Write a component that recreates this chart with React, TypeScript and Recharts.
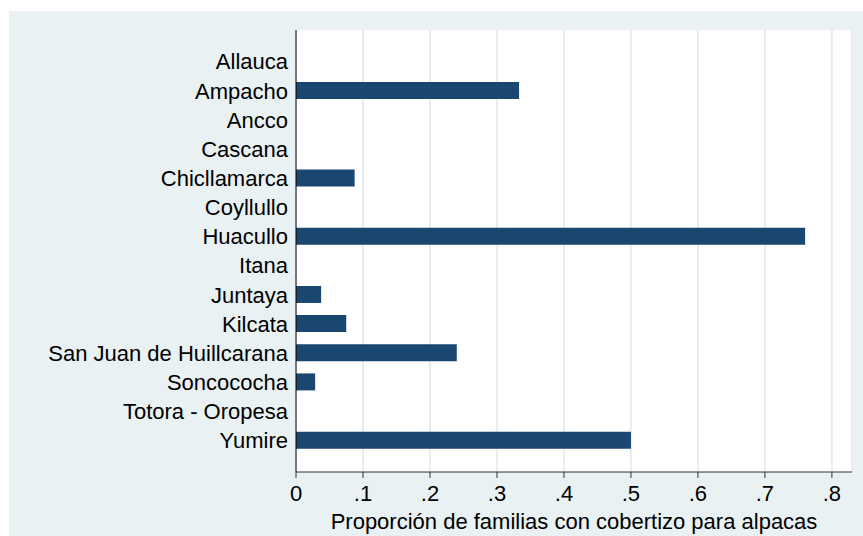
import React from "react";
import { BarChart, Bar, XAxis, YAxis, CartesianGrid } from "recharts";

const communities = [
  "Allauca",
  "Ampacho",
  "Ancco",
  "Cascana",
  "Chicllamarca",
  "Coyllullo",
  "Huacullo",
  "Itana",
  "Juntaya",
  "Kilcata",
  "San Juan de Huillcarana",
  "Soncococha",
  "Totora - Oropesa",
  "Yumire",
];

const shedShare = [0, 0.333, 0, 0, 0.0875, 0, 0.76, 0, 0.0375, 0.075, 0.24, 0.0286, 0, 0.5];

const xTicks = [0, 0.1, 0.2, 0.3, 0.4, 0.5, 0.6, 0.7, 0.8];

const data = communities.map((name, i) => ({ name, value: shedShare[i] }));

const FONT = "'Liberation Sans', Arial, sans-serif";
const BG = "#e9f1f3";
const BAR = "#1a476f";
const TXT = "#000";

const fmtTick = (v: number) => (v === 0 ? "0" : "." + Math.round(v * 10));

export default function App() {
  return (
    <div
      style={{
        position: "absolute",
        left: 0,
        top: 0,
        width: 863,
        height: 536,
        background: "#fff",
        fontFamily: FONT,
      }}
    >
      <div style={{ position: "absolute", left: 9, top: 11, width: 854, height: 525, background: BG }}>
        <BarChart
          width={854}
          height={525}
          data={data}
          layout="vertical"
          barCategoryGap="20%"
          margin={{ top: 19, right: 11, bottom: 0, left: 0 }}
        >
          <CartesianGrid horizontal={false} stroke="#e6eef1" strokeWidth={2} fill="#ffffff" />
          <XAxis
            type="number"
            domain={[0, 0.83]}
            ticks={xTicks}
            tickFormatter={fmtTick}
            height={64}
            tickSize={6}
            tickMargin={7}
            stroke="#333"
            tick={{ fill: TXT, fontSize: 22, fontFamily: FONT }}
            label={{
              value: "Proporción de familias con cobertizo para alpacas",
              position: "insideBottom",
              offset: 7,
              fill: TXT,
              fontSize: 22,
              fontFamily: FONT,
            }}
          />
          <YAxis
            type="category"
            dataKey="name"
            width={287}
            tickLine={false}
            tickSize={0}
            tickMargin={8}
            interval={0}
            padding={{ top: 17, bottom: 17 }}
            stroke="#000"
            tick={{ fill: TXT, fontSize: 22, fontFamily: FONT }}
          />
          <Bar dataKey="value" fill={BAR} isAnimationActive={false} />
        </BarChart>
      </div>
    </div>
  );
}
